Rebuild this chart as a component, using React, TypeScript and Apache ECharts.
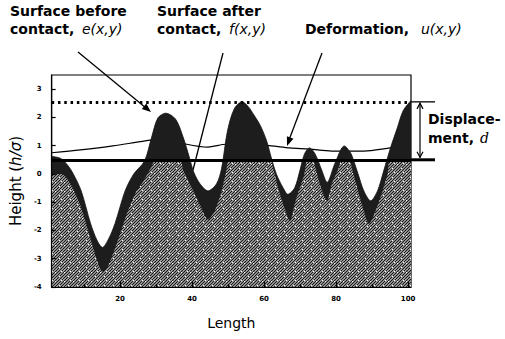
import React, { useEffect, useRef } from 'react';
import * as echarts from 'echarts';

const xLabelValues = [20, 40, 60, 80, 100];
const xMinorValues = [10, 30, 50, 70, 90];
const yLabelValues = [-4, -3, -2, -1, 0, 1, 2, 3];

// Surface before contact, e(x,y): top of the dark band
const surfaceBefore: number[][] = [
  [1, 0.62], [3.5, 0.55], [5.5, 0.3], [7, 0.0], [9.2, -0.6], [11.8, -1.75], [13.6, -2.35],
  [15.1, -2.6], [16.8, -2.3], [18.6, -1.75], [21.4, -0.6], [23.8, 0.0], [26.8, 0.46],
  [28.7, 1.27], [30.5, 1.98], [32.7, 2.15], [35.4, 1.94], [37.6, 1.27], [39.2, 0.6],
  [40.5, 0.05], [42.2, -0.35], [44.4, -0.6], [46.8, -0.35], [48.2, 0.2], [49.8, 1.5],
  [51.7, 2.3], [53.9, 2.55], [55.6, 2.38], [57.1, 2.1], [59, 1.7], [60.7, 1.17], [62, 0.57],
  [63.4, 0.0], [65.3, -0.5], [66.6, -0.72], [68.5, -0.49], [69.9, 0.1], [71.2, 0.7],
  [72.6, 0.92], [74.2, 0.7], [76.1, 0.1], [77.5, -0.3], [79.6, 0.35], [82.3, 0.99],
  [84, 0.75], [84.8, 0.5], [86.1, 0.0], [87.7, -0.6], [89.6, -0.95], [91.5, -0.6],
  [93.2, 0.1], [95.1, 0.92], [97, 1.63], [98.6, 2.23], [100.8, 2.6],
];

// Surface after contact, f(x,y): top of the light hatched region
const surfaceAfter: number[][] = [
  [1, 0.0], [3.7, 0.0], [6, -0.3], [8.3, -0.9], [10.2, -1.6], [12.5, -2.6], [14, -3.2],
  [15.1, -3.45], [16.3, -3.35], [17.5, -3.0], [19.5, -2.3], [21.9, -1.4], [24.2, -0.7],
  [26.5, -0.25], [28.5, 0.2], [30, 0.5], [36.5, 0.5], [37.6, 0.1], [40.3, -0.6],
  [42.2, -1.1], [44.4, -1.62], [46.3, -1.3], [48.2, -0.6], [49.5, 0.1], [50.3, 0.5],
  [61.7, 0.5], [62.5, 0.2], [63.9, -0.49], [65.3, -1.06], [67.2, -1.66], [68.5, -1.06],
  [69.9, -0.5], [71.2, 0.0], [72, 0.5], [73.4, 0.5], [74.7, 0.0], [76.1, -0.6],
  [77.5, -0.95], [78.8, -0.35], [80.7, 0.2], [81.5, 0.5], [83.5, 0.5], [84.8, 0.0],
  [86.1, -0.6], [87.7, -1.3], [89.1, -1.77], [91, -1.3], [92.9, -0.6], [94.3, 0.0],
  [95.1, 0.5], [100.8, 0.5],
];

// Deformation, u(x,y)
const deformation: number[][] = [
  [1, 0.75], [9, 0.85], [18, 0.99], [27, 1.17], [33, 1.25], [38.5, 1.05], [44.4, 0.95],
  [49.5, 1.05], [56, 1.05], [62, 0.99], [67.2, 0.92], [72.6, 0.88], [78.8, 0.81],
  [87.7, 0.81], [95.1, 0.92], [100.8, 1.0],
];

const dottedLevel = 2.55;
const contactLevel = 0.5;

const FONT = 'DejaVu Sans';

function makeHatch(): HTMLCanvasElement {
  const c = document.createElement('canvas');
  c.width = 9;
  c.height = 9;
  const ctx = c.getContext('2d')!;
  ctx.fillStyle = '#c4c4c4';
  ctx.fillRect(0, 0, 9, 9);
  ctx.strokeStyle = '#111';
  ctx.lineWidth = 1.1;
  ctx.beginPath();
  for (let k = -9; k <= 18; k += 3) {
    ctx.moveTo(k, 9);
    ctx.lineTo(k + 9, 0);
  }
  ctx.stroke();
  ctx.fillStyle = '#fff';
  ctx.fillRect(1, 2, 1, 1);
  ctx.fillRect(5, 6, 1, 1);
  ctx.fillRect(7, 1, 1, 1);
  return c;
}

function arrowHead(x1: number, y1: number, x2: number, y2: number, len = 9, half = 3.5) {
  const dx = x2 - x1;
  const dy = y2 - y1;
  const d = Math.sqrt(dx * dx + dy * dy);
  const ux = dx / d;
  const uy = dy / d;
  const bx = x2 - ux * len;
  const by = y2 - uy * len;
  return [
    [x2, y2],
    [bx - uy * half, by + ux * half],
    [bx + uy * half, by - ux * half],
  ];
}

export default function App() {
  const ref = useRef<HTMLDivElement>(null);

  useEffect(() => {
    if (!ref.current) return;
    const chart = echarts.init(ref.current, null, { renderer: 'svg' });
    const hatch = makeHatch();
    const tickStyle = { color: '#000', width: 1.2 };
    const labelStyle = { fontSize: 7, fontWeight: 'bold' as const, color: '#000', fontFamily: FONT };

    chart.setOption({
      animation: false,
      grid: {
        left: 43, right: 94, top: 75, bottom: 52,
        show: true, borderColor: '#000', borderWidth: 1.2, backgroundColor: 'transparent',
      },
      xAxis: [
        {
          type: 'value', min: 1, max: 100.8, position: 'bottom', z: 10,
          axisLine: { show: true, onZero: false, lineStyle: tickStyle },
          axisTick: { show: true, inside: true, length: 5, customValues: xLabelValues, lineStyle: tickStyle },
          axisLabel: { customValues: xLabelValues, margin: 8, ...labelStyle },
          splitLine: { show: false },
          name: 'Length', nameLocation: 'middle', nameGap: 29,
          nameTextStyle: { fontSize: 14, color: '#000', fontFamily: FONT },
        },
        {
          type: 'value', min: 1, max: 100.8, position: 'bottom', z: 10,
          axisLine: { show: false, onZero: false },
          axisTick: { show: true, inside: true, length: 3, customValues: xMinorValues, lineStyle: tickStyle },
          axisLabel: { show: false },
          splitLine: { show: false },
        },
      ],
      yAxis: {
        type: 'value', min: -4, max: 3.5, interval: 1, z: 10,
        axisLine: { show: true, onZero: false, lineStyle: tickStyle },
        axisTick: { show: true, inside: true, length: 4, customValues: yLabelValues, lineStyle: tickStyle },
        axisLabel: { customValues: yLabelValues, margin: 10, ...labelStyle },
        splitLine: { show: false },
        name: '{a|Height (}{b|h/σ}{a|)}', nameLocation: 'middle', nameGap: 24,
        nameTextStyle: {
          rich: {
            a: { fontSize: 15, color: '#000', fontFamily: FONT },
            b: { fontSize: 15, color: '#000', fontFamily: FONT, fontStyle: 'italic' },
          },
        },
      },
      series: [
        {
          type: 'line', data: deformation, smooth: 0.3, showSymbol: false, silent: true,
          lineStyle: { color: '#000', width: 1.2 }, z: 2,
        },
        {
          type: 'line', data: surfaceBefore, smooth: 0.3, showSymbol: false, silent: true,
          lineStyle: { color: '#111', width: 0.8 },
          areaStyle: { color: '#1d1d1d', opacity: 1, origin: 'start' }, z: 3,
        },
        {
          type: 'line', data: surfaceAfter, smooth: 0.25, showSymbol: false, silent: true,
          lineStyle: { width: 0 },
          areaStyle: { color: { image: hatch, repeat: 'repeat', imageWidth: 9, imageHeight: 9 }, opacity: 1, origin: 'start' },
          z: 4,
          markLine: {
            silent: true, symbol: ['none', 'none'], label: { show: false },
            data: [
              { yAxis: dottedLevel, lineStyle: { type: [2.5, 3.8], width: 2.8, color: '#000' } },
              { yAxis: contactLevel, lineStyle: { type: 'solid', width: 3, color: '#000' } },
            ],
          },
        },
      ],
    });

    const pTop = chart.convertToPixel({ xAxisIndex: 0, yAxisIndex: 0 }, [100.8, dottedLevel]) as number[];
    const pBot = chart.convertToPixel({ xAxisIndex: 0, yAxisIndex: 0 }, [100.8, contactLevel]) as number[];
    const ax = 420;

    const bold = { fontSize: 14, fontWeight: 'bold', fontFamily: FONT, fill: '#000' };
    const ital = { fontSize: 14, fontStyle: 'italic', fontFamily: FONT, fill: '#000' };

    const graphic: any[] = [
      { type: 'text', x: 10, y: 4, style: { text: 'Surface before', ...bold } },
      { type: 'text', x: 10, y: 22, style: { text: 'contact,', ...bold } },
      { type: 'text', x: 82, y: 22, style: { text: 'e(x,y)', ...ital } },
      { type: 'text', x: 157, y: 4, style: { text: 'Surface after', ...bold } },
      { type: 'text', x: 157, y: 22, style: { text: 'contact,', ...bold } },
      { type: 'text', x: 229, y: 22, style: { text: 'f(x,y)', ...ital } },
      { type: 'text', x: 305, y: 22, style: { text: 'Deformation,', ...bold } },
      { type: 'text', x: 421, y: 22, style: { text: 'u(x,y)', ...ital } },
      { type: 'text', x: 428, y: 112, style: { text: 'Displace-', ...bold } },
      { type: 'text', x: 428, y: 131, style: { text: 'ment,', ...bold } },
      { type: 'text', x: 480, y: 131, style: { text: 'd', ...ital, fontFamily: 'DejaVu Serif' } },
      // arrows
      { type: 'line', shape: { x1: 78, y1: 52, x2: 146, y2: 108 }, style: { stroke: '#000', lineWidth: 1.3 } },
      { type: 'polygon', shape: { points: arrowHead(78, 52, 151, 112) }, style: { fill: '#000' } },
      { type: 'line', shape: { x1: 223, y1: 53, x2: 193, y2: 170 }, style: { stroke: '#000', lineWidth: 1.3 } },
      { type: 'line', shape: { x1: 322, y1: 53, x2: 289, y2: 140 }, style: { stroke: '#000', lineWidth: 1.3 } },
      { type: 'polygon', shape: { points: arrowHead(322, 53, 287, 146) }, style: { fill: '#000' } },
      // displacement bracket
      { type: 'line', shape: { x1: pTop[0], y1: pTop[1], x2: 435, y2: pTop[1] }, style: { stroke: '#000', lineWidth: 1.3 } },
      { type: 'line', shape: { x1: pBot[0], y1: pBot[1], x2: 435, y2: pBot[1] }, style: { stroke: '#000', lineWidth: 3 } },
      { type: 'line', shape: { x1: ax, y1: pTop[1] + 1, x2: ax, y2: pBot[1] - 2 }, style: { stroke: '#000', lineWidth: 1.2 } },
      { type: 'polyline', shape: { points: [[ax - 3, pTop[1] + 7], [ax, pTop[1] + 1.5], [ax + 3, pTop[1] + 7]] }, style: { stroke: '#000', lineWidth: 1.2, fill: null } },
      { type: 'polyline', shape: { points: [[ax - 3, pBot[1] - 8], [ax, pBot[1] - 2.5], [ax + 3, pBot[1] - 8]] }, style: { stroke: '#000', lineWidth: 1.2, fill: null } },
    ];
    chart.setOption({ graphic });

    return () => chart.dispose();
  }, []);

  return (
    <div
      ref={ref}
      style={{ position: 'absolute', left: 0, top: 0, width: 505, height: 339, background: '#fff' }}
    />
  );
}
